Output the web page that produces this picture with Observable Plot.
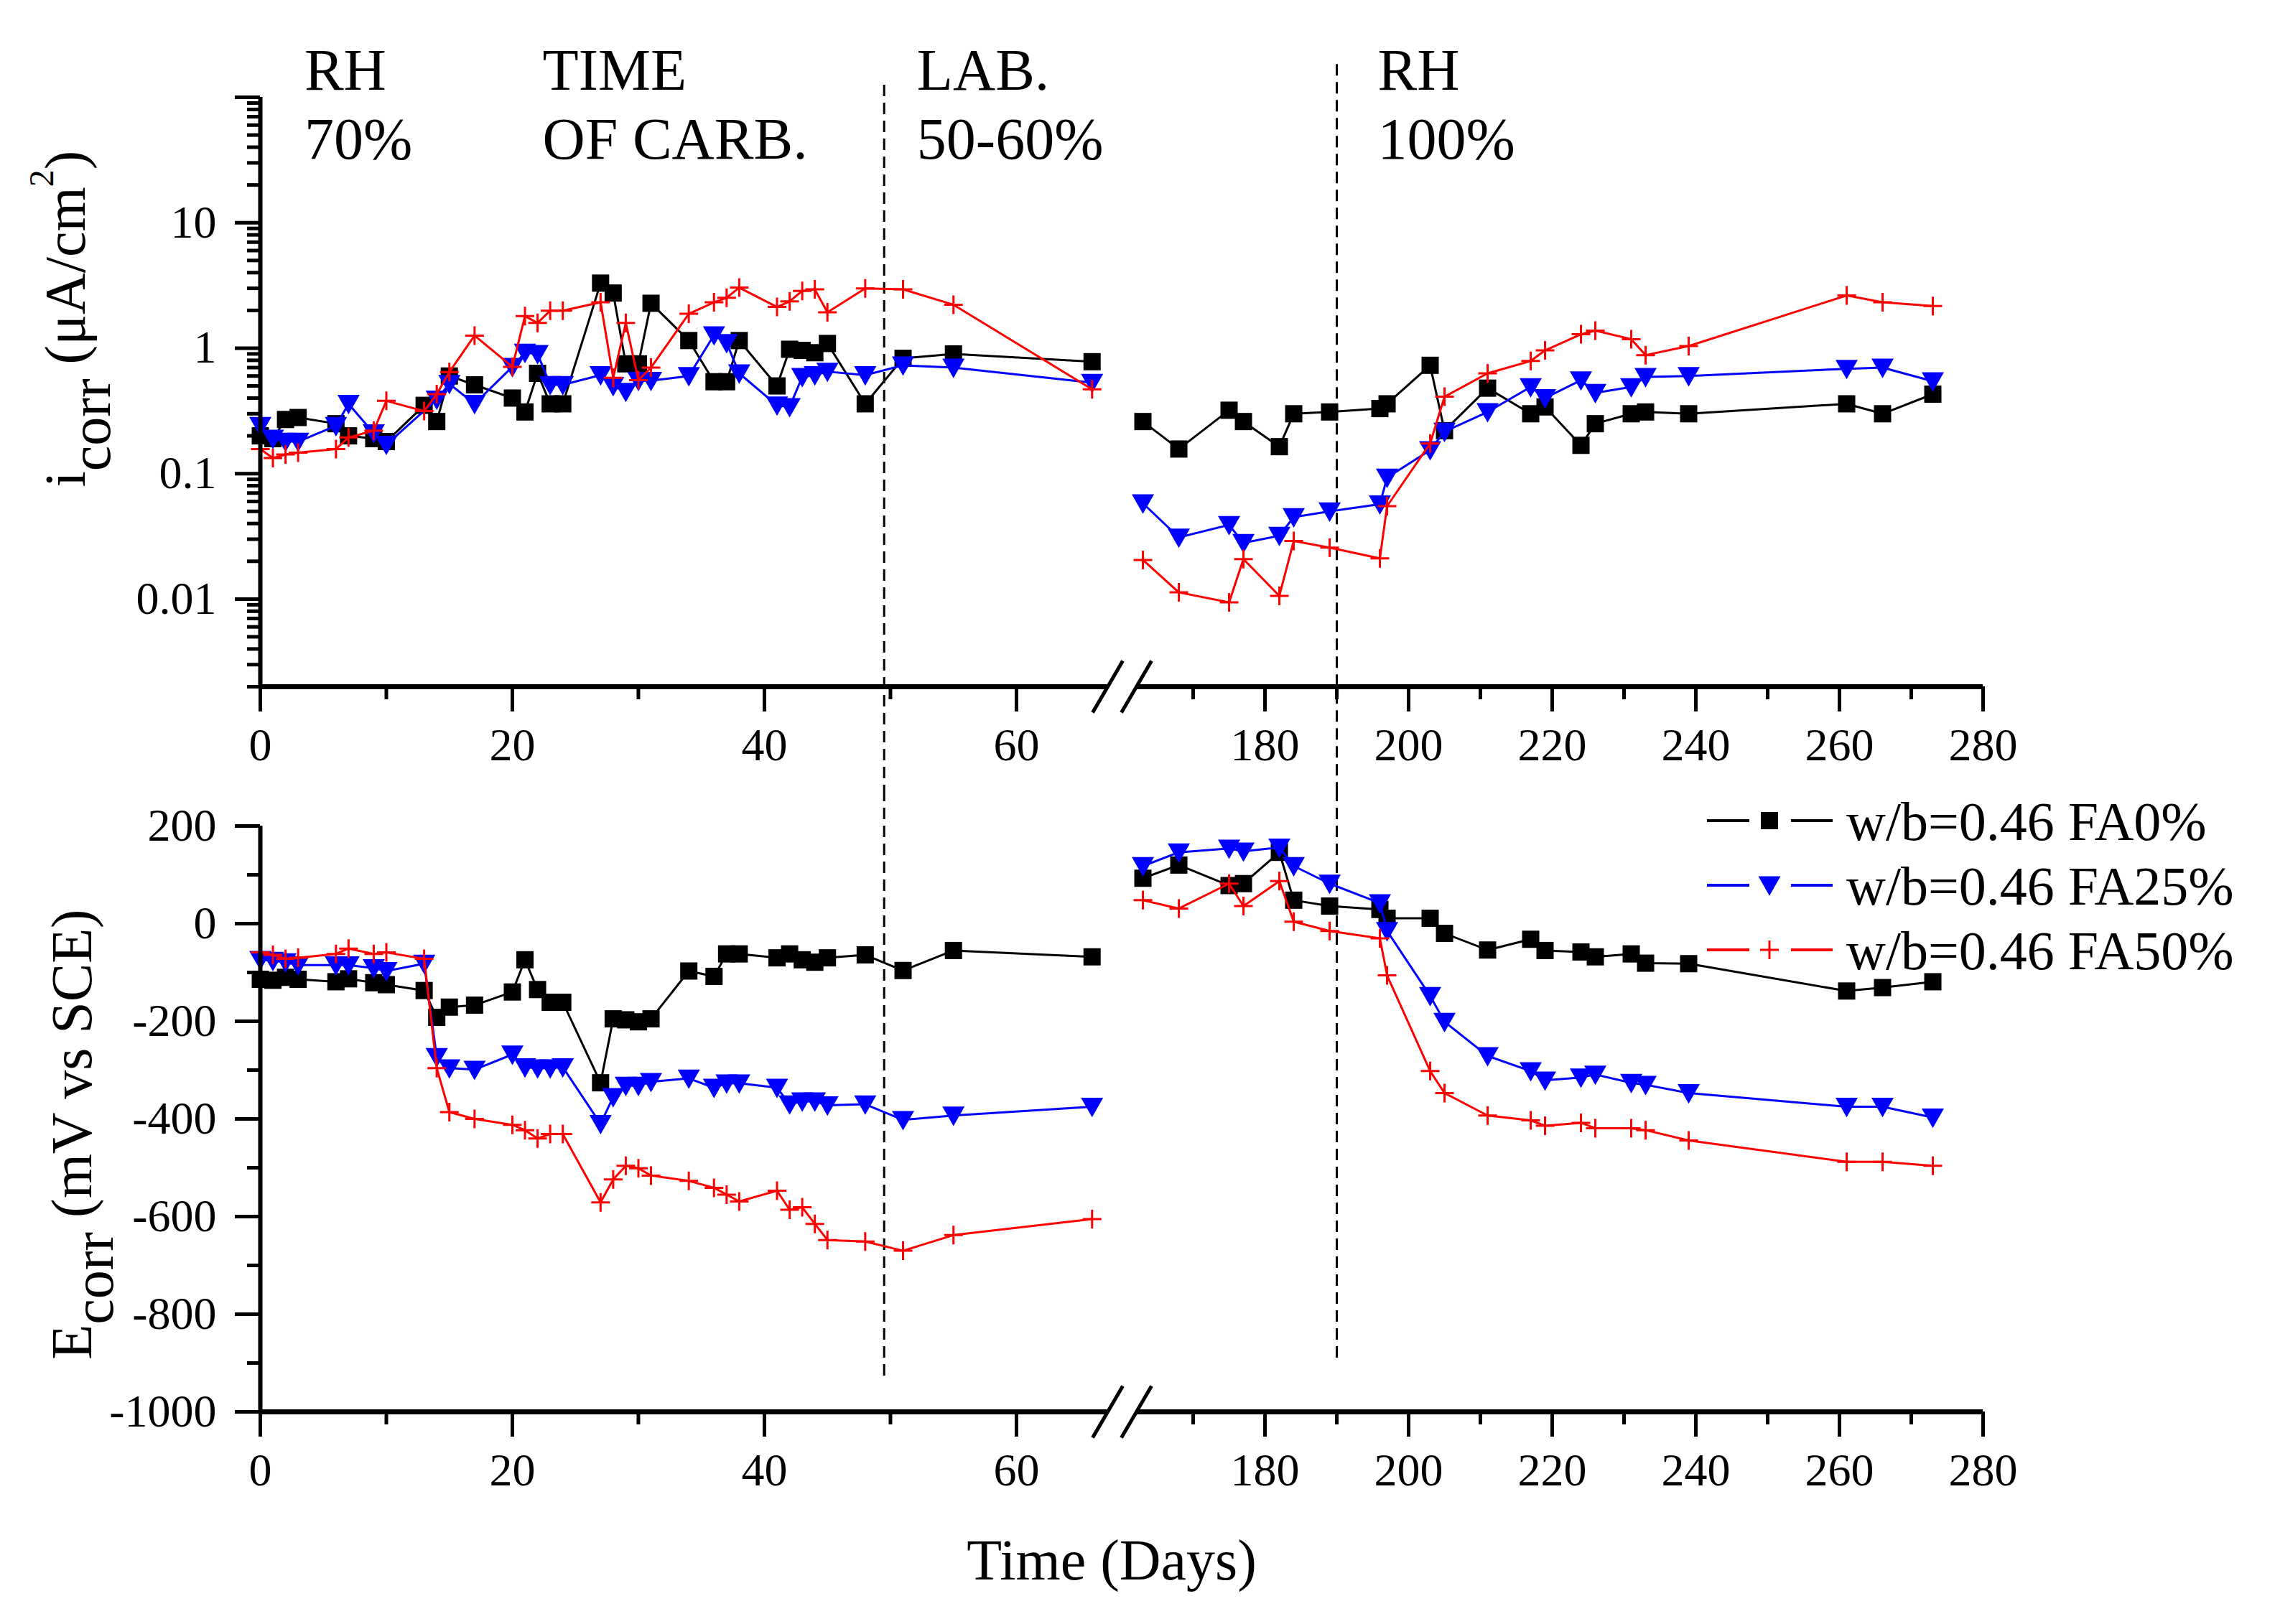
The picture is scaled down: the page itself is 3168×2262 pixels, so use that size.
<!DOCTYPE html>
<html>
<head>
<meta charset="utf-8">
<script src="https://cdn.jsdelivr.net/npm/d3@7"></script>
<script src="https://cdn.jsdelivr.net/npm/@observablehq/plot@0.6"></script>
<style>
  body { margin: 0; background: #fff; }
  #chart { width: 3168px; height: 2262px; }
  #chart svg { display: block; background: #fff; }
</style>
</head>
<body>
<div id="chart"></div>
<script>
// measurement days (before the axis break, then after it)
const days = [0, 1, 2, 3, 6, 7, 9, 10, 13, 14, 15, 17, 20, 21, 22, 23, 24, 27, 28, 29, 30, 31, 34, 36, 37, 38, 41, 42, 43, 44, 45, 48, 51, 55, 66,
  163, 168, 175, 177, 182, 184, 189, 196, 197, 203, 205, 211, 217, 219, 224, 226, 231, 233, 239, 261, 266, 273];

// i_corr (uA/cm2)
const icorrFA0 = [0.20, 0.19, 0.27, 0.28, 0.25, 0.20, 0.19, 0.18, 0.35, 0.26, 0.60, 0.51, 0.40, 0.31, 0.63, 0.36, 0.36, 3.3, 2.75, 0.75, 0.75, 2.28, 1.15, 0.54, 0.54, 1.15, 0.50, 0.98, 0.96, 0.92, 1.09, 0.36, 0.83, 0.90, 0.78,
  0.26, 0.157, 0.32, 0.26, 0.164, 0.30, 0.31, 0.33, 0.36, 0.73, 0.22, 0.48, 0.30, 0.34, 0.168, 0.25, 0.30, 0.31, 0.30, 0.36, 0.30, 0.43];
const icorrFA25 = [0.24, 0.19, 0.18, 0.18, 0.24, 0.36, 0.21, 0.17, null, 0.39, 0.52, 0.36, 0.71, 0.92, 0.90, 0.51, 0.51, 0.61, 0.50, 0.45, 0.55, 0.55, 0.60, 1.27, 1.10, 0.63, 0.35, 0.34, 0.59, 0.61, 0.65, 0.61, 0.73, 0.70, 0.53,
  0.058, 0.031, 0.039, 0.028, 0.032, 0.045, 0.050, 0.057, 0.093, 0.154, 0.216, 0.31, 0.49, 0.40, 0.555, 0.44, 0.49, 0.59, 0.60, 0.685, 0.70, 0.545];
const icorrFA50 = [0.157, 0.133, 0.142, 0.147, 0.157, 0.194, 0.22, 0.38, 0.315, 0.43, 0.645, 1.26, 0.71, 1.8, 1.59, 1.99, 1.99, 2.32, 0.58, 1.59, 0.555, 0.70, 1.88, 2.32, 2.52, 3.04, 2.13, 2.36, 2.86, 2.94, 1.93, 2.99, 2.94, 2.22, 0.47,
  0.0205, 0.0113, 0.0094, 0.0208, 0.0106, 0.029, 0.0257, 0.0211, 0.055, 0.174, 0.41, 0.63, 0.79, 0.96, 1.29, 1.38, 1.18, 0.88, 1.04, 2.63, 2.32, 2.17];

// E_corr (mV vs SCE)
const ecorrFA0 = [-114, -116, -110, -114, -119, -113, -121, -125, -137, -192, -171, -167, -140, -74, -135, -161, -161, -326, -195, -197, -201, -195, -97, -108, -62, -62, -70, -62, -74, -79, -70, -64, -96, -55, -68,
  93, 120, 78, 82, 146, 48, 36, 29, 11, 11, -20, -54, -32, -55, -58, -68, -62, -81, -82, -138, -131, -119];
const ecorrFA25 = [-74, -76, -79, -85, -85, -85, -91, -97, -82, -273, -296, -299, -268, -294, -296, -296, -294, -410, -355, -332, -332, -324, -317, -336, -327, -327, -336, -370, -364, -364, -372, -370, -402, -393, -375,
  118, 146, 154, 148, 156, 118, 82, 42, -15, -148, -201, -271, -302, -321, -315, -309, -326, -330, -347, -375, -375, -397];
const ecorrFA50 = [-59, -64, -72, -70, -62, -51, -62, -59, -72, -296, -386, -400, -412, -423, -440, -431, -431, -571, -524, -496, -501, -516, -527, -541, -555, -569, -547, -586, -581, -615, -648, -651, -670, -638, -605,
  48, 31, 82, 36, 87, 4, -15, -30, -106, -302, -347, -393, -403, -414, -408, -419, -419, -423, -444, -488, -488, -496];

const seriesNames = ["w/b=0.46 FA0%", "w/b=0.46 FA25%", "w/b=0.46 FA50%"];
const seriesColors = ["#000000", "#0000ff", "#ff0000"];

// axis ticks
const xMajorDays = [0, 20, 40, 60, 180, 200, 220, 240, 260, 280];
const xTickLabels = ["0", "20", "40", "60", "180", "200", "220", "240", "260", "280"];
const xMinorDays = [10, 30, 50, 170, 190, 210, 230, 250, 270];
const icorrTicks = [0.01, 0.1, 1, 10, 100];
const icorrTickLabels = ["0.01", "0.1", "1", "10", ""];
const ecorrTicks = [200, 0, -200, -400, -600, -800, -1000];
const ecorrTickLabels = ["200", "0", "-200", "-400", "-600", "-800", "-1000"];
const ecorrMinorTicks = [100, -100, -300, -500, -700, -900];

// exposure periods
const periodLabels = ["RH\n70%", "TIME\nOF CARB.", "LAB.\n50-60%", "RH\n100%"];
const periodLabelDays = [3.5, 22.4, 52.1, 195.7];
const periodBounds = [49.5, 190];
const periodTopIcorr = [125, 183];
const periodBottomEcorr = [-938, -891];

// broken time axis: 0..67 then 162..280 (compressed)
const axisSegments = [[0, 67.24], [162.1, 280]];
const pos = d => d < 100 ? d : 79.72 + (d - 180) * 0.5698;
const xDomain = [0, pos(280)];
const xLabel = new Map(xMajorDays.map((d, i) => [pos(d), xTickLabels[i]]));

const W = 3168, mL = 362, mR = W - 2761;
const font = "Liberation Serif";

// marker shapes
const squareSym = {draw(ctx, size) { const r = Math.sqrt(size / Math.PI); ctx.rect(-r, -r, 2 * r, 2 * r); }};
const triDownSym = {draw(ctx, size) { const r = Math.sqrt(size / Math.PI); ctx.moveTo(-r, -0.8 * r); ctx.lineTo(r, -0.8 * r); ctx.lineTo(0, 0.95 * r); ctx.closePath(); }};
const plusSym = {draw(ctx, size) { const r = Math.sqrt(size / Math.PI); ctx.moveTo(-r, 0); ctx.lineTo(r, 0); ctx.moveTo(0, -r); ctx.lineTo(0, r); }};
const slashSym = {draw(ctx) { ctx.moveTo(-21, 36); ctx.lineTo(21, -36); }};
const markers = [
  {symbol: squareSym, r: 12, filled: true},
  {symbol: triDownSym, r: 15.5, filled: true},
  {symbol: plusSym, r: 13, filled: false}
];

const rowsOf = values => days.map((d, i) => ({u: pos(d), part: d < 100 ? 0 : 1, v: values[i]})).filter(r => r.v != null);

function seriesMarks(table) {
  return table.flatMap((values, i) => {
    const rows = rowsOf(values);
    const m = markers[i];
    return [
      Plot.line(rows, {x: "u", y: "v", z: "part", stroke: seriesColors[i], strokeWidth: 3}),
      Plot.dot(rows, {x: "u", y: "v", symbol: m.symbol, r: m.r,
        fill: m.filled ? seriesColors[i] : "none", stroke: m.filled ? "none" : seriesColors[i], strokeWidth: 3})
    ];
  });
}

function axisMarks(yMin) {
  return [
    Plot.ruleX([0], {strokeWidth: 6}),
    Plot.ruleY(axisSegments, {y: () => yMin, x1: s => pos(s[0]), x2: s => pos(s[1]), strokeWidth: 7}),
    Plot.dot([axisSegments[0][1], axisSegments[1][0]], {x: pos, y: () => yMin, symbol: slashSym, fill: "none", stroke: "black", strokeWidth: 5}),
    Plot.axisX(xMajorDays.map(pos), {tickSize: 35, tickPadding: 22, strokeWidth: 5, fontSize: 64, label: null, tickFormat: u => xLabel.get(u)}),
    Plot.axisX(xMinorDays.map(pos), {tickSize: 18, strokeWidth: 5, label: null, tickFormat: () => ""})
  ];
}

// ---- i_corr panel
const hT = 1100, mtT = 135, mbT = 144;
const logMin = Math.log10(0.002), logMax = Math.log10(100);
const topEdgeBottom = Math.pow(10, logMin - mbT * (logMax - logMin) / (hT - mtT - mbT));
const icorrMinor = [];
for (let e = -3; e <= 1; e++) for (let k = 2; k <= 9; k++) {
  const v = k * Math.pow(10, e);
  if (v >= 0.002 && v < 100) icorrMinor.push(v);
}

const topChart = Plot.plot({
  width: W, height: hT,
  marginLeft: mL, marginRight: mR, marginTop: mtT, marginBottom: mbT,
  style: {fontFamily: font, fontSize: "64px", color: "black", background: "white"},
  x: {domain: xDomain, axis: null, label: null},
  y: {type: "log", domain: [0.002, 100], axis: null, label: null},
  marks: [
    Plot.ruleX(periodBounds, {x: pos, y1: (d, i) => periodTopIcorr[i], y2: () => topEdgeBottom, strokeWidth: 3, strokeDasharray: "16,9"}),
    ...seriesMarks([icorrFA0, icorrFA25, icorrFA50]),
    ...axisMarks(0.002),
    Plot.axisY(icorrTicks, {tickSize: 35, tickPadding: 26, strokeWidth: 5, fontSize: 64, label: null, tickFormat: d => icorrTickLabels[icorrTicks.indexOf(d)]}),
    Plot.axisY(icorrMinor, {tickSize: 18, strokeWidth: 5, label: null, tickFormat: () => ""}),
    Plot.text(periodLabels, {x: (d, i) => pos(periodLabelDays[i]), text: d => d, frameAnchor: "top", dy: -79,
      lineAnchor: "top", textAnchor: "start", fontSize: 82, lineHeight: 1.17, fill: "black"})
  ]
});

// ---- E_corr panel
const hB = 1162, mtB = 50, mbB = 296;
const bottomEdgeTop = 200 + mtB * 1200 / (hB - mtB - mbB);

const bottomChart = Plot.plot({
  width: W, height: hB,
  marginLeft: mL, marginRight: mR, marginTop: mtB, marginBottom: mbB,
  style: {fontFamily: font, fontSize: "64px", color: "black", background: "white"},
  x: {domain: xDomain, axis: null, label: null},
  y: {domain: [-1000, 200], axis: null, label: null},
  marks: [
    Plot.ruleX(periodBounds, {x: pos, y1: () => bottomEdgeTop, y2: (d, i) => periodBottomEcorr[i], strokeWidth: 3, strokeDasharray: "16,9"}),
    ...seriesMarks([ecorrFA0, ecorrFA25, ecorrFA50]),
    ...axisMarks(-1000),
    Plot.axisY(ecorrTicks, {tickSize: 35, tickPadding: 26, strokeWidth: 5, fontSize: 64, label: null, tickFormat: d => ecorrTickLabels[ecorrTicks.indexOf(d)]}),
    Plot.axisY(ecorrMinorTicks, {tickSize: 18, strokeWidth: 5, label: null, tickFormat: () => ""})
  ]
});

// axis titles with sub/superscripts
function yTitle(svg, x, y, parts) {
  const t = d3.select(svg).append("text")
    .attr("transform", `translate(${x},${y}) rotate(-90)`)
    .attr("text-anchor", "middle")
    .attr("font-family", font).attr("font-size", 80).attr("fill", "black");
  parts.forEach(p => {
    const s = t.append("tspan").text(p.text);
    if (p.dy) s.attr("dy", p.dy);
    if (p.size) s.attr("font-size", p.size);
  });
}
yTitle(topChart, 118, 444, [
  {text: "i"}, {text: "corr", dy: 35}, {text: " (μA/cm", dy: -35}, {text: "2", dy: -44, size: 48}, {text: ")", dy: 44}
]);
yTitle(bottomChart, 127, 480, [
  {text: "E"}, {text: "corr", dy: 30}, {text: " (mV vs SCE)", dy: -30}
]);

d3.select(bottomChart).append("text")
  .attr("x", 1548).attr("y", 1100)
  .attr("text-anchor", "middle")
  .attr("font-family", font).attr("font-size", 80).attr("fill", "black")
  .text("Time (Days)");

// legend inside the lower panel
const legend = d3.select(bottomChart).append("g")
  .attr("font-family", font).attr("font-size", 76).attr("text-anchor", "start");
seriesNames.forEach((name, i) => {
  const y = 43 + 90 * i;
  const g = legend.append("g");
  [[2377, 2436], [2494, 2552]].forEach(([a, b]) =>
    g.append("line").attr("x1", a).attr("x2", b).attr("y1", y).attr("y2", y)
      .attr("stroke", seriesColors[i]).attr("stroke-width", 4));
  const m = markers[i];
  g.append("path")
    .attr("transform", `translate(2464,${y})`)
    .attr("d", d3.symbol(m.symbol, m.r * m.r * Math.PI)())
    .attr("fill", m.filled ? seriesColors[i] : "none")
    .attr("stroke", m.filled ? "none" : seriesColors[i])
    .attr("stroke-width", 3);
  g.append("text").attr("x", 2571).attr("y", y).attr("dy", "0.35em")
    .attr("text-anchor", "start").attr("fill", "black").text(name);
});

const chart = document.getElementById("chart");
chart.append(topChart);
chart.append(bottomChart);
</script>
</body>
</html>
